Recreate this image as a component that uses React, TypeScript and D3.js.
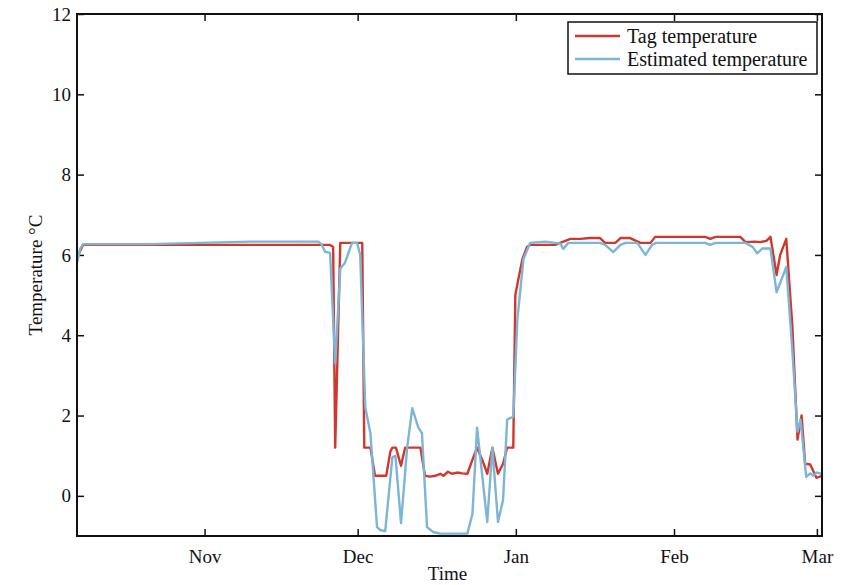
import React, { useEffect, useRef } from 'react';
import * as d3 from 'd3';

// days since 2010-10-07 and readings
const startDate = new Date(2010, 9, 7);
const endDate = new Date(2011, 2, 2);

const tagDays = [0, 0.6, 1.2, 49.6, 50.2, 50.6, 51.6, 55.9, 56.3, 57.5, 58.4, 60.6, 61.4, 61.8, 62.5, 63.5, 64.3, 67.3, 68.2, 69.2, 70.2, 71.2, 71.8, 72.7, 73.5, 74.5, 75.5, 76.5, 77.5, 78.4, 79.4, 80.4, 81.4, 82.5, 83.5, 84.3, 85.5, 85.9, 86.5, 87.3, 88.2, 88.8, 93.7, 94.7, 95.7, 96.7, 98.6, 100.6, 102.5, 103.5, 105.5, 106.5, 108.4, 110.4, 112.4, 113.3, 122.2, 123.1, 124.1, 125.1, 130.0, 131.0, 132.9, 133.9, 135.1, 135.9, 137.1, 137.8, 139.0, 140.2, 141.2, 142.0, 142.7, 143.7, 144.9, 146];
const tagTemp = [5.9, 6.1, 6.25, 6.25, 6.2, 1.2, 6.3, 6.3, 1.2, 1.2, 0.5, 0.5, 1.1, 1.2, 1.2, 0.75, 1.2, 1.2, 0.5, 0.48, 0.5, 0.55, 0.5, 0.6, 0.55, 0.58, 0.56, 0.55, 0.9, 1.2, 0.9, 0.55, 1.2, 0.55, 0.8, 1.2, 1.2, 5.0, 5.4, 5.9, 6.2, 6.25, 6.25, 6.3, 6.35, 6.4, 6.4, 6.42, 6.42, 6.3, 6.3, 6.42, 6.42, 6.3, 6.3, 6.45, 6.45, 6.45, 6.4, 6.45, 6.45, 6.32, 6.33, 6.32, 6.35, 6.45, 5.5, 6.0, 6.4, 4.2, 1.4, 2.0, 0.8, 0.78, 0.45, 0.5];

const estDays = [0, 0.6, 1.2, 14.3, 24.1, 33.9, 47.3, 48.0, 48.6, 49.6, 50.6, 51.6, 52.5, 53.9, 54.9, 55.5, 56.5, 57.5, 58.8, 59.4, 60.4, 61.8, 62.4, 63.5, 64.7, 65.7, 66.9, 67.6, 68.6, 69.8, 71.2, 76.5, 77.5, 78.4, 80.4, 81.4, 82.5, 83.5, 84.3, 85.5, 86.3, 87.5, 88.8, 91.8, 93.7, 94.7, 95.3, 96.3, 102.5, 103.5, 105.1, 106.5, 107.5, 109.8, 111.4, 112.7, 113.5, 123.1, 124.1, 125.1, 131.0, 132.4, 133.3, 134.3, 135.9, 137.1, 139.0, 140.2, 141.2, 141.8, 142.9, 143.7, 144.3, 144.9, 146];
const estTemp = [5.8, 6.15, 6.27, 6.27, 6.3, 6.33, 6.33, 6.25, 6.08, 6.05, 3.3, 5.66, 5.8, 6.3, 6.3, 6.0, 2.2, 1.56, -0.78, -0.85, -0.88, 0.96, 1.0, -0.68, 1.2, 2.18, 1.7, 1.56, -0.78, -0.9, -0.94, -0.94, -0.45, 1.7, -0.65, 1.2, -0.65, -0.1, 1.9, 1.97, 4.4, 5.9, 6.3, 6.33, 6.3, 6.28, 6.15, 6.3, 6.3, 6.25, 6.07, 6.25, 6.3, 6.3, 6.0, 6.25, 6.3, 6.3, 6.25, 6.3, 6.3, 6.2, 6.04, 6.16, 6.16, 5.07, 5.7, 3.6, 1.6, 1.9, 0.47, 0.56, 0.5, 0.58, 0.55];

const monthTicks = ['2010-11-01', '2010-12-01', '2011-01-01', '2011-02-01', '2011-03-01'];
const yTicks = [0, 2, 4, 6, 8, 10, 12];

const seriesNames = ['Tag temperature', 'Estimated temperature'];
const seriesColors = ['#d0382d', '#7db5d6'];

const W = 851, H = 585;
const left = 77, right = 822, top = 14, bottom = 536;
const FONT = '"Liberation Serif", "Times New Roman", serif';

const toDate = (d: number) => new Date(startDate.getTime() + d * 864e5);

export default function App() {
  const ref = useRef<SVGSVGElement>(null);

  useEffect(() => {
    const svg = d3.select(ref.current);
    svg.selectAll('*').remove();

    const x = d3.scaleTime().domain([startDate, endDate]).range([left, right]);
    const y = d3.scaleLinear().domain([-1, 12]).range([bottom, top]);

    svg.append('defs').append('clipPath').attr('id', 'plotclip')
      .append('rect').attr('x', left).attr('y', top)
      .attr('width', right - left).attr('height', bottom - top);

    const tickDates = monthTicks.map(s => d3.timeParse('%Y-%m-%d')(s) as Date);

    // bottom axis, inward ticks
    const gx = svg.append('g').attr('transform', `translate(0,${bottom})`)
      .call(d3.axisBottom(x).tickValues(tickDates).tickFormat(d3.timeFormat('%b') as any).tickSizeInner(-7).tickSizeOuter(0).tickPadding(14));
    gx.selectAll('text').attr('font-size', 19).attr('font-family', FONT).attr('fill', '#111');

    // top axis ticks
    svg.append('g').attr('transform', `translate(0,${top})`)
      .call(d3.axisTop(x).tickValues(tickDates).tickFormat(() => '').tickSizeInner(-7).tickSizeOuter(0));

    const gy = svg.append('g').attr('transform', `translate(${left},0)`)
      .call(d3.axisLeft(y).tickValues(yTicks).tickSizeInner(-7).tickSizeOuter(0).tickPadding(6));
    gy.selectAll('text').attr('font-size', 19).attr('font-family', FONT).attr('fill', '#111');

    svg.append('g').attr('transform', `translate(${right},0)`)
      .call(d3.axisRight(y).tickValues(yTicks).tickFormat(() => '').tickSizeInner(-7).tickSizeOuter(0));

    svg.selectAll('.domain').remove();
    svg.selectAll('.tick line').attr('stroke', '#111').attr('stroke-width', 1.5);

    const lineGen = d3.line<[number, number]>()
      .x(d => x(toDate(d[0])))
      .y(d => y(d[1]));

    const series: [number, number][][] = [
      tagDays.map((d, i) => [d, tagTemp[i]]),
      estDays.map((d, i) => [d, estTemp[i]]),
    ];

    const plot = svg.append('g').attr('clip-path', 'url(#plotclip)');
    series.forEach((s, i) => {
      plot.append('path').datum(s)
        .attr('d', lineGen)
        .attr('fill', 'none')
        .attr('stroke', seriesColors[i])
        .attr('stroke-width', 2.4)
        .attr('stroke-linejoin', 'round');
    });

    // box
    svg.append('rect').attr('x', left).attr('y', top)
      .attr('width', right - left).attr('height', bottom - top)
      .attr('fill', 'none').attr('stroke', '#111').attr('stroke-width', 2);

    // axis titles
    svg.append('text').attr('x', (left + right) / 2 - 2).attr('y', 580)
      .attr('text-anchor', 'middle').attr('font-size', 19).attr('font-family', FONT)
      .attr('fill', '#111').text('Time');
    svg.append('text')
      .attr('transform', `translate(42,${(top + bottom) / 2}) rotate(-90)`)
      .attr('text-anchor', 'middle').attr('font-size', 19).attr('font-family', FONT)
      .attr('fill', '#111').text('Temperature \u00B0C');

    // legend
    const lg = svg.append('g');
    lg.append('rect').attr('x', 568).attr('y', 22).attr('width', 249).attr('height', 52)
      .attr('fill', '#fff').attr('stroke', '#111').attr('stroke-width', 1.5);
    seriesNames.forEach((name, i) => {
      const ly = 36 + i * 23;
      lg.append('line').attr('x1', 575).attr('x2', 620).attr('y1', ly).attr('y2', ly)
        .attr('stroke', seriesColors[i]).attr('stroke-width', 2.4);
      lg.append('text').attr('x', 627).attr('y', ly + 6.5)
        .attr('font-size', 20).attr('font-family', FONT).attr('fill', '#111').text(name);
    });
  }, []);

  return (
    <svg ref={ref} width={W} height={H}
      style={{ position: 'absolute', left: 0, top: 0, background: '#fff' }} />
  );
}
